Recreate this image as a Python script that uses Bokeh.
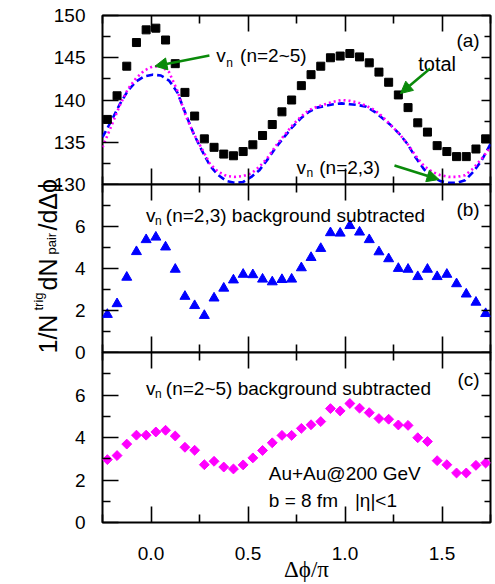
import numpy as np
from bokeh.plotting import figure
from bokeh.layouts import column
from bokeh.models import (Range1d, LinearAxis, FixedTicker, Label, Arrow, NormalHead,
                          CustomLabelingPolicy)
from bokeh.embed import file_html
from bokeh.resources import INLINE

# ---------------- data ----------------
dphi = [-0.225, -0.175, -0.125, -0.075, -0.025, 0.025, 0.075, 0.125, 0.175, 0.225,
        0.275, 0.325, 0.375, 0.425, 0.475, 0.525, 0.575, 0.625, 0.675, 0.725,
        0.775, 0.825, 0.875, 0.925, 0.975, 1.025, 1.075, 1.125, 1.175, 1.225,
        1.275, 1.325, 1.375, 1.425, 1.475, 1.525, 1.575, 1.625, 1.675, 1.725]

total = [137.7, 140.5, 144.0, 146.8, 148.3, 148.5, 147.1, 144.3, 140.9, 138.1,
         135.4, 134.4, 133.6, 133.4, 133.9, 134.7, 135.8, 137.1, 138.6, 140.0,
         141.7, 143.0, 144.0, 145.0, 145.2, 145.5, 145.1, 144.4, 143.3, 142.1,
         140.6, 139.1, 137.3, 136.2, 134.6, 133.9, 133.3, 133.3, 134.2, 135.4]

sub_n23 = [1.81, 2.32, 3.58, 4.80, 5.37, 5.49, 5.02, 3.96, 2.67, 2.23,
           1.76, 2.59, 3.06, 3.45, 3.72, 3.70, 3.49, 3.36, 3.47, 3.49,
           4.03, 4.52, 4.95, 5.70, 5.68, 6.04, 5.73, 5.37, 4.79, 4.46,
           4.00, 3.96, 3.61, 3.96, 3.61, 3.72, 3.27, 2.78, 2.39, 1.85]

sub_n25 = [2.96, 3.15, 3.69, 4.11, 4.11, 4.26, 4.34, 4.07, 3.54, 3.40,
           2.72, 2.88, 2.61, 2.52, 2.71, 3.04, 3.39, 3.75, 4.10, 4.10,
           4.43, 4.60, 4.75, 5.36, 5.25, 5.60, 5.38, 5.17, 4.89, 4.86,
           4.59, 4.57, 3.99, 3.81, 2.91, 2.72, 2.33, 2.33, 2.69, 2.80]

curve_x = [-0.25, -0.203, -0.161, -0.119, -0.076, -0.034, 0.008, 0.051, 0.093, 0.136,
           0.178, 0.220, 0.263, 0.305, 0.347, 0.390, 0.432, 0.475, 0.517, 0.559,
           0.602, 0.644, 0.686, 0.729, 0.771, 0.814, 0.856, 0.898, 0.941, 0.983,
           1.025, 1.068, 1.110, 1.153, 1.195, 1.237, 1.280, 1.322, 1.364, 1.407,
           1.449, 1.492, 1.534, 1.576, 1.619, 1.661, 1.703, 1.75]

bg_n23 = [135.6, 137.6, 139.5, 141.1, 142.2, 142.8, 143.0, 142.9, 142.3, 140.9,
          138.4, 136.0, 134.0, 132.2, 131.1, 130.4, 130.2, 130.3, 130.9, 131.7,
          133.0, 134.4, 135.6, 136.8, 137.8, 138.6, 139.1, 139.3, 139.5, 139.6,
          139.5, 139.4, 139.2, 138.6, 137.8, 137.0, 136.0, 134.8, 133.2, 131.8,
          130.9, 130.4, 130.2, 130.2, 130.5, 131.5, 132.8, 134.8]

bg_n25 = [134.4, 137.0, 139.35, 141.3, 142.6, 143.5, 143.96, 144.0, 143.3, 141.1,
          138.2, 136.0, 134.2, 132.4, 131.5, 131.0, 130.9, 131.0, 131.3, 132.1,
          133.2, 134.6, 135.8, 137.0, 138.0, 138.8, 139.2, 139.5, 139.8, 140.0,
          139.9, 139.7, 139.3, 138.8, 138.0, 137.0, 136.0, 134.8, 133.4, 132.2,
          131.5, 131.1, 130.9, 130.9, 131.1, 131.9, 133.0, 134.4]

ticks_x = [0.0, 0.5, 1.0, 1.5]
minor_x = [-0.25, 0.25, 0.75, 1.25, 1.75]
ticks_a = [130, 135, 140, 145, 150]
minor_a = [132.5, 137.5, 142.5, 147.5]
ticks_bc = [0, 2, 4, 6]
minor_bc = [1, 3, 5, 7]

# ---------------- styling ----------------
FONT = "Liberation Sans"
W, H = 495, 584
LEFT = 102
RIGHT = 1
GREEN = "#0a8a0a"
BLUE = "#0000ff"
MAG = "#ff00ff"


def px2x(px):
    return (px - LEFT) / 196.0 - 0.25


def ya(py):
    return 150 - (py - 15) / 8.45


def yb(py):
    return (352 - py) / 21.0


def yc(py):
    return (522 - py) / 21.25


def style_axis(ax, tin, minor_in, labels=False, size="19px", standoff=17):
    ax.major_tick_in = tin
    ax.major_tick_out = 0
    ax.minor_tick_in = minor_in
    ax.minor_tick_out = 0
    ax.major_tick_line_width = 1.6
    ax.minor_tick_line_width = 1.6
    ax.major_tick_line_color = "black"
    ax.minor_tick_line_color = "black"
    ax.axis_line_color = None
    if labels:
        ax.major_label_text_font = FONT
        ax.major_label_text_font_size = size
        ax.major_label_text_color = "black"
        ax.major_label_standoff = standoff
    else:
        ax.major_label_policy = CustomLabelingPolicy(code="return []")
        ax.major_label_text_font_size = "1px"
        ax.major_label_standoff = 0


def make_panel(height, top, bottom, y0, y1, yt, ym, xlabels=False, margin=None):
    kw = dict(width=W, height=height,
              x_range=Range1d(-0.25, 1.75), y_range=Range1d(y0, y1),
              output_backend="svg", toolbar_location=None,
              x_axis_location=None, y_axis_location=None,
              min_border_left=LEFT, min_border_right=RIGHT,
              min_border_top=top, min_border_bottom=bottom,
              border_fill_color=None, background_fill_color="white",
              outline_line_color="black", outline_line_width=2)
    if margin is not None:
        kw["margin"] = margin
    p = figure(**kw)
    p.grid.visible = False
    xt = FixedTicker(ticks=ticks_x, minor_ticks=minor_x)
    yt_ = FixedTicker(ticks=yt, minor_ticks=ym)
    left = LinearAxis(ticker=yt_)
    style_axis(left, 16, 8, labels=True, standoff=17)
    p.add_layout(left, "left")
    right = LinearAxis(ticker=yt_)
    style_axis(right, 9, 6)
    p.add_layout(right, "right")
    below = LinearAxis(ticker=xt)
    style_axis(below, 16, 8, labels=xlabels, standoff=24)
    if xlabels:
        below.major_label_overrides = {0.0: "0.0", 0.5: "0.5", 1.0: "1.0", 1.5: "1.5"}
    p.add_layout(below, "below")
    above = LinearAxis(ticker=xt)
    style_axis(above, 16, 8)
    p.add_layout(above, "above")
    return p


def txt(p, x, y, t, size="19px", align="left", angle=0.0, font=FONT):
    p.add_layout(Label(x=x, y=y, text=t, text_font=font, text_font_size=size,
                       text_align=align, text_baseline="alphabetic",
                       text_color="black", angle=angle))


def arrow(p, x0, y0, x1, y1):
    p.add_layout(Arrow(x_start=x0, y_start=y0, x_end=x1, y_end=y1,
                       line_color=GREEN, line_width=2.5,
                       end=NormalHead(size=12, fill_color=GREEN, line_color=GREEN)))


# ---------------- panel (a) ----------------
pa = make_panel(194, 15, 10, 130, 150, ticks_a, minor_a)
pa.line(curve_x, bg_n23, line_color=BLUE, line_width=2.6, line_dash="7 4")
pa.line(curve_x, bg_n25, line_color=MAG, line_width=2.6, line_dash="2 3")
pa.scatter(dphi, total, marker="square", size=8, fill_color="black", line_color="black")
txt(pa, px2x(483), ya(40), "(a)", align="right")
txt(pa, px2x(217), ya(55), "v")
txt(pa, px2x(227), ya(62), "n", size="12px")
txt(pa, px2x(241), ya(55), "(n=2~5)")
txt(pa, px2x(421), ya(63), "total", size="20px")
txt(pa, px2x(298), ya(167), "v")
txt(pa, px2x(308), ya(172), "n", size="12px")
txt(pa, px2x(321), ya(167), "(n=2,3)")
arrow(pa, px2x(210), ya(55), px2x(155), ya(65.7))
arrow(pa, px2x(433), ya(68), px2x(403), ya(93))
arrow(pa, px2x(397), ya(165), px2x(442), ya(179))

# ---------------- panel (b) ----------------
pb = make_panel(188, 10, 10, 0, 8, ticks_bc, minor_bc, margin=(-20, 0, 0, 0))
pb.scatter(dphi, sub_n23, marker="triangle", size=10, fill_color=BLUE, line_color=BLUE)
txt(pb, px2x(483), yb(209), "(b)", align="right")
txt(pb, px2x(146), yb(215), "v")
txt(pb, px2x(155), yb(220), "n", size="12px")
txt(pb, px2x(166), yb(215), "(n=2,3) background subtracted")

# ---------------- panel (c) ----------------
pc = make_panel(242, 10, 62, 0, 8, ticks_bc, minor_bc, xlabels=True, margin=(-20, 0, 0, 0))
pc.scatter(dphi, sub_n25, marker="square", angle=np.pi / 4, size=7,
           fill_color=MAG, line_color=MAG)
txt(pc, px2x(483), yc(379), "(c)", align="right")
txt(pc, px2x(146), yc(388), "v")
txt(pc, px2x(155), yc(393), "n", size="12px")
txt(pc, px2x(166), yc(388), "(n=2~5) background subtracted")
txt(pc, px2x(270), yc(473), "Au+Au@200 GeV")
txt(pc, px2x(270), yc(500), "b = 8 fm")
txt(pc, px2x(357), yc(500), "|\u03b7|<1")

# ---------------- transparent overlay for the axis titles ----------------
ov = figure(width=W, height=H, x_range=Range1d(0, W), y_range=Range1d(0, H),
            output_backend="svg", toolbar_location=None,
            x_axis_location=None, y_axis_location=None,
            min_border_left=0, min_border_right=0, min_border_top=0, min_border_bottom=0,
            border_fill_color=None, background_fill_color=None, outline_line_color=None,
            margin=(-H, 0, 0, 0))
ov.grid.visible = False
if "frame_align" in ov.properties():
    ov.frame_align = False

SHIFT = 8  # compensates the overlay's vertical offset seen in the render


def ovy(py):
    return H - (py - SHIFT)


A = np.pi / 2
txt(ov, 47, ovy(361), "1/N", size="25px", angle=A)
txt(ov, 38, ovy(318), "trig", size="13px", angle=A)
txt(ov, 47, ovy(298), "dN", size="25px", angle=A)
txt(ov, 51, ovy(262), "pair", size="13px", angle=A)
txt(ov, 47, ovy(238), "/d\u0394\u03d5", size="25px", angle=A)
txt(ov, 306, ovy(577), "\u0394\u03d5/\u03c0", size="23px", align="center",
    font="Liberation Serif")

panels = column(pa, pb, pc, spacing=0)
layout = column(panels, ov, spacing=0)
open("out.html", "w").write(file_html(layout, INLINE))
